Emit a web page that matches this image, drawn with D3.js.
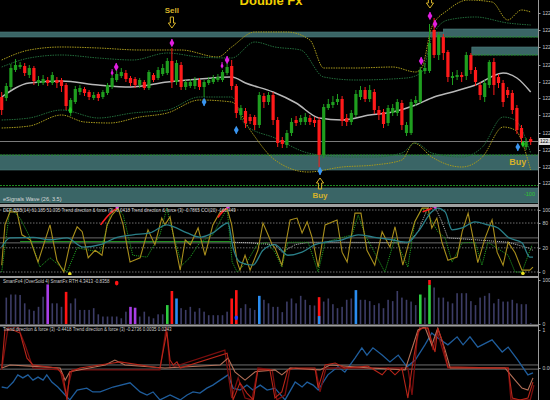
<!DOCTYPE html>
<html><head><meta charset="utf-8">
<script src="https://cdn.jsdelivr.net/npm/d3@7"></script>
<style>html,body{margin:0;padding:0;background:#000;overflow:hidden}svg{display:block}</style>
</head><body><svg id="c" width="550" height="400"></svg>
<script>
// ---------------- DATA ----------------
const candleOpen = [103,102,113,130,133,134,125,132,117,117, 120,117,120,120,115,87,98,108,111,108, 102,106,103,107,113,120,124,127,122,121, 115,118,112,125,122,126,127,139,118,135, 113,114,114,120,113,117,118,120,120,127, 134,114,85,89,83,83,75,104,98,105, 80,60,55,67,80,78,78,82,80,80, 45,92,95,98,101,82,78,85,103,110, 101,108,90,88,77,87,87,97,67,67, 97,98,129,129,170,145,163,148,122,123, 125,124,145,130,115,103,115,138,123,117, 110,107,92,72,53,61];
const candleClose = [90,114,132,135,135,127,132,119,120,121, 117,125,117,114,94,100,111,112,107,103, 105,102,108,115,122,126,128,121,117,115, 120,112,128,120,130,132,139,118,137,113, 118,118,120,113,118,120,122,123,128,133, 114,87,92,77,79,75,105,98,105,80, 57,56,67,78,77,82,83,78,77,45, 93,96,98,101,79,78,87,106,110,101, 110,90,85,76,92,92,98,75,75,98, 100,130,132,157,145,165,147,123,124,125, 123,145,130,118,105,117,138,115,117,98, 105,90,70,62,58,58];
const candleHigh = [108,117,136,141,138,137,135,134,124,125, 123,128,123,122,117,102,114,115,113,110, 108,108,110,117,125,130,132,130,124,123, 122,120,130,127,133,136,142,152,140,138, 120,121,123,122,120,123,125,126,130,137, 140,116,95,92,86,85,108,107,108,108, 83,63,70,82,84,85,87,85,83,83, 96,101,104,106,104,86,90,110,114,113, 115,111,94,91,95,96,101,100,78,101, 104,133,137,176,182,168,166,150,128,130, 128,148,147,133,118,120,140,142,126,120, 113,110,95,75,62,63];
const candleLow = [85,99,110,128,131,124,122,115,114,115, 114,115,112,108,90,84,96,105,104,100, 100,99,101,105,111,118,122,118,114,112, 112,110,110,118,120,124,125,112,115,110, 110,112,111,110,103,115,116,118,118,125, 110,82,80,72,76,70,72,92,95,75, 53,52,52,64,74,75,75,75,73,33, 42,90,92,95,74,74,75,83,100,98, 98,86,80,72,74,84,84,70,64,65, 94,96,126,127,142,140,140,118,115,120, 118,120,126,114,100,98,112,105,112,93, 102,86,66,56,50,55];

const maLine = [[0,103],[6,117],[13,119],[21,115],[28,113],[36,118],[43,121],[50,123],[53,117],[59,108],[64,97],[69,82],[74,80],[80,85],[85,88],[90,95],[94,103],[98,108],[103,115],[109,127],[112,122],[115,108]];
const bandOuterUp = [[0,140],[6,150],[13,153],[21,152],[30,150],[39,150],[47,143],[50,153],[55,168],[62,168],[67,160],[70,132],[77,132],[85,133],[90,128],[91.4,133],[93.5,173],[97,190],[101.4,200],[106.6,198],[110,180],[113,190],[115,188]];
const bandInnerUp = [[0,133],[6,142],[13,145],[21,142],[28.5,140],[36,147],[43,143],[50,142],[55,158],[59.4,153],[65,150],[70,123],[77,120],[88,122],[91.4,128],[93.5,163],[97,180],[103,183],[110,177],[115,175]];
const bandInnerLo = [[0,80],[6,82],[13,90],[21,82],[28.5,87],[36,90],[43,103],[50,103],[53,75],[59.4,62],[66.6,47],[74,43],[81,43],[87,47],[90,57],[93.5,47],[100,43],[104.5,53],[109,83],[111.6,80],[115,47]];
const bandOuterLo = [[0,72],[6,74],[13,85],[18,78],[23.5,77],[30,83],[36,87],[43,100],[50,98],[54,70],[59.4,40],[66.6,28],[74,33],[81,35],[87,40],[89.6,57],[93.5,43],[100,33],[104.5,43],[109,73],[111.6,70],[115,30]];

const zoneFrom = [-1, 96, 102.2, -1, -1];
const zoneTo   = [96, 118, 118, 118, 118];
const zoneHigh = [168, 171, 153, 45, 12];
const zoneLow  = [163, 163, 145, 30, -3];
const currentPrice = 58.5;
const supportLine = 14.5;

const priceTicks = [187,170,153,135,118,102,85,67,50,33,17];
const priceTickLabels = ["122.775","122.750","122.725","122.700","122.675","122.650","122.625","122.600","122.575","122.550","122.525"];

const magentaIdx = [37,24.9,24,49,47.9,93.1,94.2,91.2];
const magentaVal = [157,133,127,140,134,184,176,139];
const blueIdx = [44,51,69.2,112.2];
const blueVal = [98,70,29,53];
const greenDotIdx = [14.9,113.3];
const greenDotVal = [90,56];
const sellIdx = [37,93.1];
const sellTip = [172,192];
const sellTextIdx = [37];
const sellText = [187.5];
const buyIdx = [69.2];
const buyTip = [22];
const buyText = [2];
const buyLabel2 = [112.2,35];

// oscillator panel
const oscYellow = [[0,11],[0.7,76],[1.8,97],[3.3,97],[4.4,60],[6.2,52],[7.9,16],[10.5,76],[12,19],[13.5,0],[14.8,44],[16.4,73],[17.5,65],[18.8,23],[20.3,35],[21.8,27],[22.9,76],[24,92],[25.3,103],[26.4,76],[27.9,16],[30.1,23],[31.8,68],[33.3,44],[34.8,87],[35.5,76],[36.6,89],[37.7,44],[38.8,3],[39.9,52],[41,44],[42.7,71],[44.2,27],[45.9,76],[47.5,97],[49,103],[50,76],[51.2,16],[51.8,3],[52.9,27],[54,3],[55.7,35],[56.8,79],[57.9,60],[58.8,44],[59.4,39],[60.9,11],[62.7,84],[64.2,87],[65.3,63],[66.4,81],[67.5,55],[68.8,8],[70.3,76],[72.9,84],[74,32],[75.1,16],[76.8,95],[78.1,95],[79.4,35],[81.1,11],[82.7,65],[84.4,40],[85.5,73],[87.2,11],[88.8,55],[89.8,81],[91.4,103],[92.7,103],[93.5,71],[94.6,87],[95.7,48],[97,19],[99,24],[100.1,65],[101.4,95],[102.2,65],[103.5,15],[105.1,55],[106.6,84],[107.7,32],[109,11],[110.1,48],[111.6,31],[113.1,3],[114.8,3],[115.5,8]];
const oscTeal = [[0,40],[1.8,55],[6.8,56],[10.5,52],[14.2,55],[17.7,40],[21.4,44],[25.1,56],[28.5,60],[32.2,63],[35.9,76],[37.3,73],[40.3,63],[43.1,56],[45.9,63],[49.2,79],[50.3,39],[51.8,16],[54.6,11],[56.8,35],[59.4,44],[62.2,27],[65.3,32],[68.1,44],[70.3,48],[74,52],[77.5,60],[81.1,56],[84.8,52],[88.3,48],[90.5,65],[93.5,97],[94.8,103],[96.4,97],[97.9,68],[100.1,71],[102.9,81],[105.7,76],[107.9,71],[110.1,56],[113.1,47],[114.8,24],[115.5,24]];
const oscGreen = [[0,0],[1.8,103],[4,87],[6.2,55],[8.3,8],[10.5,23],[14.2,0],[16.4,39],[21.4,32],[23.6,92],[25.1,103],[26.4,92],[28.5,27],[31.6,24],[34.4,60],[35.9,103],[37.3,60],[39.2,11],[40.9,23],[43.1,48],[45.9,60],[49,103],[50.1,16],[51.2,0],[53.3,16],[55.5,44],[57.7,48],[59.4,32],[60.9,8],[62.2,48],[66.6,48],[68.8,0],[70.3,48],[76.2,60],[77.5,92],[79,60],[83.3,0],[85.5,55],[88.3,8],[89.8,81],[91.4,103],[92.7,92],[94.8,65],[96.4,55],[97.9,16],[100.1,47],[102.9,48],[104.4,11],[105.7,48],[110.1,27],[111.6,0],[113.1,0],[115.3,44]];
const oscGray = [[50.3,48],[54,47],[59.4,44],[60.9,32],[63.8,44],[66.6,48],[74,48],[88.3,47],[90.5,65],[92.7,105],[94.2,105],[95.7,81],[97,55],[102.9,52],[110.1,48],[114.4,39],[115.5,35]];
const oscFlat = [[4,49],[50,49]];
const oscRedArcs = [[[21.5,76],[23,90],[24.3,99],[25.1,103]],[[47,88],[48,97],[49,103]],[[91.5,97],[92.8,101],[93.6,103]]];
const oscPeakIdx = [25.1,49.2,94.2];
const oscPeakVal = [105,105,105];
const oscBottomIdx = [14.8,113.3];
const oscBottomVal = [-3,-2];
const oscDotted = [100,79,39,0];
const oscSolid = [55,47];
const oscTicks = [100,79,39,0];
const oscTickLabels = ["100","80","20","0"];

// histogram panel
const histVal = [0,60,67,67,66,47,33,30,39,62, 90,47,47,39,73,47,58,32,32,32, 36,22,17,17,17,17,13,28,39,37, 17,28,17,13,22,22,43,75,58,36, 32,39,28,36,28,20,20,20,20,28, 58,77,36,45,36,32,64,55,47,39, 39,27,51,58,47,64,55,43,42,61, 51,58,45,36,39,55,58,77,55,55, 52,43,47,36,55,52,75,60,55,51, 43,67,60,100,83,60,60,51,47,70, 70,70,52,43,60,64,70,47,57,51, 51,55,47,45,45,2];
const purpleBars = [10,28,29];
const redBars = [14,37,50,51,69];
const greenBars = [36,91,93];
const blueBars = [38,56,77];
const overlayIdx = [69,93];
const overlayFrom = [0,89];
const overlayTo = [18,100];
const overlayKind = ["blue","red"];
const histDotIdx = [25,51];
const histDotVal = [93,14];
const histDotKind = ["red","blue"];

// trend panel
const trendBlue = [[0,-0.5],[1.2,-0.53],[2.5,-0.37],[3.5,-0.18],[4.6,-0.26],[5.7,-0.18],[6.8,-0.32],[7.9,-0.24],[9,-0.32],[9.8,-0.18],[10.9,-0.37],[12.2,-0.5],[13.8,-0.71],[14.8,-0.84],[16.4,-0.58],[18.5,-0.53],[19.8,-0.63],[21.4,-0.63],[24.2,-0.5],[27.9,-0.39],[30.1,-0.63],[31.6,-0.71],[32.9,-0.63],[34.4,-0.84],[36.6,-0.71],[38.8,-0.84],[40.3,-0.71],[41.6,-0.63],[43.1,-0.66],[44.6,-0.53],[45.9,-0.45],[47.5,-0.32],[49.2,-0.18],[50.3,-0.53],[51.8,-0.58],[53.3,-0.45],[54.6,-0.58],[56.2,-0.45],[57.7,-0.58],[59.4,-0.53],[61.6,-0.84],[63.8,-0.37],[65.3,-0.5],[66.4,-0.37],[67.7,-0.45],[68.8,-0.58],[70.9,-0.18],[73.1,0.03],[74.6,-0.11],[76.8,0.26],[78.3,0.53],[79.4,0.34],[80.7,0.53],[82.7,0.34],[84.4,0.16],[86.2,0.34],[88.1,0.03],[89.9,0.21],[92,0.61],[93.5,0.92],[94.8,0.79],[97,0.61],[99,0.82],[100.3,0.61],[101.8,0.82],[103.5,0.55],[106.6,0.74],[108.8,0.42],[110.1,0.55],[112.2,0.21],[114.4,-0.18],[115.5,-0.13]];
const trendRed = [[0,0],[0.7,1.0],[2.5,1.0],[4,0.92],[5.5,0.26],[6.8,0.08],[12,0],[13.3,-0.18],[14.2,-0.84],[14.8,-0.11],[17,0],[24.2,0.13],[25.7,0.16],[34.4,0],[35.9,0.95],[36.6,0.21],[37.3,0.08],[38.1,0.16],[38.8,0],[49,0.39],[49.6,0],[50.3,-0.84],[51.8,-0.39],[53.3,-0.66],[54.7,-0.84],[55.7,-0.05],[58.3,-0.05],[59.4,-0.79],[60.9,-0.63],[62.2,-0.05],[63.8,0],[68.1,0],[68.8,-0.53],[70.3,0.08],[72.5,0.13],[74.6,0],[79.6,0.05],[82.7,-0.18],[84,0],[85.5,-0.18],[87,0],[88.3,-0.79],[89.2,0],[90.5,0.95],[91.4,1.05],[92.7,1.05],[93.5,0.68],[94.2,0.42],[94.8,1.05],[95.7,0.74],[97,0.03],[108.3,0],[110.1,0],[111,-0.79],[112.7,-0.84],[114.4,-0.79],[115.5,-0.37]];
const trendDark = [[0,-0.05],[1.4,1.08],[3.5,1.08],[5.1,0.6],[6.8,0],[12.7,-0.05],[14,-0.71],[15.3,-0.05],[34.4,-0.05],[35.8,1.08],[36.6,0],[48.5,0.47],[50,-0.79],[51.4,-0.26],[52.9,-0.79],[54.4,-0.84],[55.7,0],[58.8,-0.05],[59.8,-0.84],[61.6,-0.71],[62.7,0],[68.3,-0.05],[69.2,-0.63],[70.5,0],[88.3,0],[89.2,-0.71],[90.3,0.74],[90.9,1.08],[92.5,1.08],[93.8,0.47],[94.6,1.0],[96,0.42],[97,0],[110.1,0],[110.7,-0.84],[114.9,-0.84],[115.7,-0.45]];
const trendBrown = [[0,0],[1.8,0.08],[6.2,0.05],[12.7,0],[13.8,-0.32],[14.8,-0.1],[22.5,0.08],[24.6,0.21],[26.8,0.08],[35.5,0],[47.5,0.08],[49.2,0.26],[50.7,-0.1],[52.9,-0.32],[55.1,-0.1],[59.4,-0.05],[60.9,-0.18],[62.7,0],[69.2,-0.05],[71.4,0.08],[80,0],[87.7,-0.05],[90.5,1.0],[92,1.08],[93.5,0.6],[94.8,1.05],[96.4,0.47],[97.5,0],[109.4,0],[111.6,-0.32],[113.1,-0.53],[114.4,-0.58],[115.5,-0.26]];
const trendLevels = [0.08,-0.03];
const trendTicks = [1,0];
const trendTickLabels = ["1","0.00"];
const histTicks = [100,0];
const histTickLabels = ["100","0"];

const headerOsc = "eSignals Wave (26, 3.5)";
const headerOsc2 = "DEF BBB(14) 61.185 51.035  Trend direction & force (3) -0.0418  Trend direction & force (3) -0.7865  CCI(20) -166.449";
const headerHist = "SmartFx4 (OverSold 4)   SmartFx RTH  4.3413  -0.8358";
const headerTrend = "Trend direction & force (3) -0.4418  Trend direction & force (3) -0.2736  0.0035  0.0243";
const title = "Double Fx";

// ---------------- DRAW ----------------
const svg = d3.select('#c');
const PR = 538;
svg.append('rect').attr('width',550).attr('height',400).attr('fill','#000');
const x = d3.scaleLinear().domain([0,115]).range([1.7,530.7]);
const yMain = d3.scaleLinear().domain([0,200]).range([200,0]);
const yOsc = d3.scaleLinear().domain([0,100]).range([272,210]);
const yHist = d3.scaleLinear().domain([0,100]).range([324,280]);
const yTrend = d3.scaleLinear().domain([-1,1]).range([406,330]);
const font = "Liberation Sans, Arial, sans-serif";

const defs = svg.append('defs');
function clip(id,y0,y1){defs.append('clipPath').attr('id',id).append('rect').attr('x',0).attr('y',y0).attr('width',PR).attr('height',y1-y0);}
clip('cm',0,203.5); clip('co',207,275); clip('ch',278,324.5); clip('ct',327,400);

// main panel
const gm = svg.append('g').attr('clip-path','url(#cm)');
zoneFrom.forEach((f,i)=>{
  gm.append('rect').attr('x',x(f)).attr('width',x(zoneTo[i])-x(f))
    .attr('y',yMain(zoneHigh[i])).attr('height',yMain(zoneLow[i])-yMain(zoneHigh[i]))
    .attr('fill','#3a6566').attr('stroke','#4f7c7d').attr('stroke-width',0.6);
});
[[1,'low'],[2,'low'],[3,'high']].forEach(([i,e])=>{
  const v = e==='low'?zoneLow[i]:zoneHigh[i];
  gm.append('line').attr('x1',x(zoneFrom[i])).attr('x2',x(zoneTo[i])).attr('y1',yMain(v)).attr('y2',yMain(v))
    .attr('stroke','#1e8a1e').attr('stroke-width',1).attr('stroke-dasharray','2,1');
});
gm.append('line').attr('x1',0).attr('x2',PR).attr('y1',yMain(supportLine)).attr('y2',yMain(supportLine))
  .attr('stroke','#1e8a1e').attr('stroke-width',1.2).attr('stroke-dasharray','2,1');
gm.append('line').attr('x1',0).attr('x2',PR).attr('y1',yMain(currentPrice)).attr('y2',yMain(currentPrice))
  .attr('stroke','#7a7a7a').attr('stroke-width',1);

const lineM = d3.line().x(d=>x(d[0])).y(d=>yMain(d[1])).curve(d3.curveMonotoneX);
gm.append('path').attr('d',lineM(bandOuterUp)).attr('fill','none').attr('stroke','#a89a1c').attr('stroke-width',1).attr('stroke-dasharray','1.5,1');
gm.append('path').attr('d',lineM(bandOuterLo)).attr('fill','none').attr('stroke','#a89a1c').attr('stroke-width',1).attr('stroke-dasharray','1.5,1');
gm.append('path').attr('d',lineM(bandInnerUp)).attr('fill','none').attr('stroke','#226b3a').attr('stroke-width',1).attr('stroke-dasharray','1.5,1');
gm.append('path').attr('d',lineM(bandInnerLo)).attr('fill','none').attr('stroke','#226b3a').attr('stroke-width',1).attr('stroke-dasharray','1.5,1');
gm.append('path').attr('d',lineM(maLine)).attr('fill','none').attr('stroke','#b8b8b8').attr('stroke-width',1.5);

const cw = 3.2;
candleOpen.forEach((o,i)=>{
  const c = candleClose[i];
  const col = c>=o ? '#1f9e1f' : '#ff1a1a';
  gm.append('line').attr('x1',x(i)).attr('x2',x(i)).attr('y1',yMain(candleHigh[i])).attr('y2',yMain(candleLow[i]))
    .attr('stroke',col).attr('stroke-width',1);
  const top = yMain(Math.max(o,c)), bot = yMain(Math.min(o,c));
  gm.append('rect').attr('x',x(i)-cw/2).attr('width',cw).attr('y',top).attr('height',Math.max(1,bot-top)).attr('fill',col);
});

magentaIdx.forEach((m,i)=>{
  gm.append('path').attr('transform',`translate(${x(m)},${yMain(magentaVal[i])})`)
    .attr('d',d3.symbol(d3.symbolDiamond, i===2||i===4?8:20)()).attr('fill','#e01ee0');
  gm.append('line').attr('x1',x(m)).attr('x2',x(m)).attr('y1',yMain(magentaVal[i])-4).attr('y2',yMain(magentaVal[i])-1).attr('stroke','#e01ee0').attr('stroke-width',1);
});
blueIdx.forEach((b,i)=>{
  gm.append('path').attr('transform',`translate(${x(b)},${yMain(blueVal[i])})`)
    .attr('d',d3.symbol(d3.symbolDiamond,20)()).attr('fill','#3a95f0');
  gm.append('line').attr('x1',x(b)).attr('x2',x(b)).attr('y1',yMain(blueVal[i])+1).attr('y2',yMain(blueVal[i])+4).attr('stroke','#3a95f0').attr('stroke-width',1);
});
greenDotIdx.forEach((g,i)=>{
  gm.append('path').attr('transform',`translate(${x(g)},${yMain(greenDotVal[i])})`)
    .attr('d',d3.symbol(d3.symbolDiamond,14)()).attr('fill','#22cc22');
});
function downArrow(cx,tip){return `M${cx-1.6},${tip-11}L${cx+1.6},${tip-11}L${cx+1.6},${tip-5}L${cx+3.6},${tip-5}L${cx},${tip}L${cx-3.6},${tip-5}L${cx-1.6},${tip-5}Z`;}
function upArrow(cx,tip){return `M${cx-1.6},${tip+11}L${cx+1.6},${tip+11}L${cx+1.6},${tip+5}L${cx+3.6},${tip+5}L${cx},${tip}L${cx-3.6},${tip+5}L${cx-1.6},${tip+5}Z`;}
sellIdx.forEach((s,i)=>{
  gm.append('path').attr('d',downArrow(x(s),yMain(sellTip[i]))).attr('fill','none').attr('stroke','#d6b22a').attr('stroke-width',1);
});
sellTextIdx.forEach((s,i)=>{
  gm.append('text').attr('x',x(s)).attr('y',yMain(sellText[i])).attr('text-anchor','middle').attr('font-family',font)
    .attr('font-weight','bold').attr('font-size',8).attr('fill','#d6b22a').text('Sell');
});
buyIdx.forEach((b,i)=>{
  gm.append('path').attr('d',upArrow(x(b),yMain(buyTip[i]))).attr('fill','none').attr('stroke','#d6b22a').attr('stroke-width',1);
  gm.append('text').attr('x',x(b)).attr('y',yMain(buyText[i])).attr('text-anchor','middle').attr('font-family',font)
    .attr('font-weight','bold').attr('font-size',8).attr('fill','#d6b22a').text('Buy');
});
gm.append('text').attr('x',x(buyLabel2[0])).attr('y',yMain(buyLabel2[1])).attr('text-anchor','middle').attr('font-family',font)
  .attr('font-weight','bold').attr('font-size',9).attr('fill','#d6b22a').text('Buy');
gm.append('text').attr('x',535).attr('y',yMain(zoneLow[4])-7).attr('text-anchor','end').attr('font-family',font)
  .attr('font-size',5.5).attr('fill','#2ec82e').text('-100');
gm.append('text').attr('x',3).attr('y',201).attr('font-family',font).attr('font-size',5.5).attr('fill','#d8d8d8').text(headerOsc);
svg.append('text').attr('x',271).attr('y',5).attr('text-anchor','middle').attr('font-family',font)
  .attr('font-weight','bold').attr('font-size',13).attr('fill','#f0d000').text(title);

// separators
[[205.5,3],[277,2],[325.5,2]].forEach(([y,w])=>{
  svg.append('line').attr('x1',0).attr('x2',PR).attr('y1',y).attr('y2',y).attr('stroke','#a0a0a0').attr('stroke-width',w);
});

// oscillator panel
const go = svg.append('g').attr('clip-path','url(#co)');
oscDotted.forEach(v=>go.append('line').attr('x1',0).attr('x2',PR).attr('y1',yOsc(v)).attr('y2',yOsc(v)).attr('stroke','#8a8a8a').attr('stroke-width',0.8).attr('stroke-dasharray','1.5,1.5'));
oscSolid.forEach(v=>go.append('line').attr('x1',0).attr('x2',PR).attr('y1',yOsc(v)).attr('y2',yOsc(v)).attr('stroke','#6a6a6a').attr('stroke-width',1));
const lineO = d3.line().x(d=>x(d[0])).y(d=>yOsc(d[1]));
go.append('path').attr('d',lineO(oscFlat)).attr('fill','none').attr('stroke','#25a025').attr('stroke-width',1);
go.append('path').attr('d',lineO(oscGray)).attr('fill','none').attr('stroke','#bdbdbd').attr('stroke-width',1).attr('stroke-dasharray','1,1');
go.append('path').attr('d',lineO(oscGreen)).attr('fill','none').attr('stroke','#1f9a1f').attr('stroke-width',1).attr('stroke-dasharray','1.2,1');
go.append('path').attr('d',lineO(oscYellow)).attr('fill','none').attr('stroke','#a88e1c').attr('stroke-width',1.1);
go.append('path').attr('d',d3.line().x(d=>x(d[0])).y(d=>yOsc(d[1])).curve(d3.curveMonotoneX)(oscTeal)).attr('fill','none').attr('stroke','#2a7f88').attr('stroke-width',1.3);
oscRedArcs.forEach(a=>go.append('path').attr('d',d3.line().x(d=>x(d[0])).y(d=>yOsc(d[1])).curve(d3.curveMonotoneX)(a)).attr('fill','none').attr('stroke','#ff2020').attr('stroke-width',1.6));
oscPeakIdx.forEach((p,i)=>go.append('circle').attr('cx',x(p)).attr('cy',yOsc(oscPeakVal[i])).attr('r',1.8).attr('fill','#e040e0'));
oscBottomIdx.forEach((p,i)=>go.append('circle').attr('cx',x(p)).attr('cy',yOsc(oscBottomVal[i])).attr('r',1.8).attr('fill','#e8e020'));
svg.append('text').attr('x',3).attr('y',212).attr('font-family',font).attr('font-size',4.5).attr('fill','#cfcfcf').text(headerOsc2);

// histogram panel
const gh = svg.append('g').attr('clip-path','url(#ch)');
const kindColor = {normal:'#3c3c66', purple:'#a83ee6', red:'#ff1414', green:'#2ecc40', blue:'#2a8cf0'};
function histKind(i){
  if (purpleBars.includes(i)) return 'purple';
  if (redBars.includes(i)) return 'red';
  if (greenBars.includes(i)) return 'green';
  if (blueBars.includes(i)) return 'blue';
  return 'normal';
}
histVal.forEach((v,i)=>{
  const k = histKind(i);
  const w = k==='normal'?1.6:2.6;
  const topV = (i===93)?overlayFrom[1]:v;
  gh.append('rect').attr('x',x(i)-w/2).attr('width',w).attr('y',yHist(topV)).attr('height',yHist(0)-yHist(topV)).attr('fill',kindColor[k]);
});
overlayIdx.forEach((o,i)=>{
  gh.append('rect').attr('x',x(o)-1.3).attr('width',2.6).attr('y',yHist(overlayTo[i])).attr('height',yHist(overlayFrom[i])-yHist(overlayTo[i])).attr('fill',kindColor[overlayKind[i]]);
});
histDotIdx.forEach((d,i)=>gh.append('ellipse').attr('cx',x(d)).attr('cy',yHist(histDotVal[i])).attr('rx',1.8).attr('ry',2.4).attr('fill',histDotKind[i]==='red'?'#ff1414':'#2040ff'));
svg.append('text').attr('x',3).attr('y',283).attr('font-family',font).attr('font-size',4.5).attr('fill','#cfcfcf').text(headerHist);

// trend panel
const gt = svg.append('g').attr('clip-path','url(#ct)');
trendLevels.forEach(v=>gt.append('line').attr('x1',0).attr('x2',PR).attr('y1',yTrend(v)).attr('y2',yTrend(v)).attr('stroke','#6e6e6e').attr('stroke-width',1));
const lineT = d3.line().x(d=>x(d[0])).y(d=>yTrend(d[1]));
gt.append('path').attr('d',lineT(trendBlue)).attr('fill','none').attr('stroke','#1f5d9c').attr('stroke-width',1.3);
gt.append('path').attr('d',lineT(trendDark)).attr('fill','none').attr('stroke','#7a0e0e').attr('stroke-width',1.3);
gt.append('path').attr('d',lineT(trendBrown)).attr('fill','none').attr('stroke','#b47058').attr('stroke-width',1.1);
gt.append('path').attr('d',lineT(trendRed)).attr('fill','none').attr('stroke','#b8261a').attr('stroke-width',1.1);
svg.append('text').attr('x',3).attr('y',331).attr('font-family',font).attr('font-size',4.5).attr('fill','#cfcfcf').text(headerTrend);

// right axis
svg.append('line').attr('x1',PR+0.5).attr('x2',PR+0.5).attr('y1',0).attr('y2',400).attr('stroke','#9a9a9a').attr('stroke-width',1);
function rightAxis(scale, vals, labels){
  const ax = d3.axisRight(scale).tickValues(vals).tickFormat((d,i)=>labels[i]).tickSize(2).tickPadding(2);
  const g = svg.append('g').attr('transform',`translate(${PR+0.5},0)`).call(ax);
  g.select('.domain').remove();
  g.selectAll('line').attr('stroke','#9a9a9a');
  g.selectAll('text').attr('font-family',font).attr('font-size',5).attr('fill','#c8c8c8');
}
rightAxis(yMain, priceTicks, priceTickLabels);
rightAxis(yOsc, oscTicks, oscTickLabels);
rightAxis(yHist, histTicks, histTickLabels);
rightAxis(yTrend, trendTicks, trendTickLabels);
svg.append('rect').attr('x',PR+1).attr('y',yMain(currentPrice)-3.5).attr('width',12).attr('height',7).attr('fill','#dcdcdc');
svg.append('text').attr('x',PR+2).attr('y',yMain(currentPrice)+1.8).attr('font-family',font).attr('font-size',5).attr('fill','#000').text('122.589');
</script>
</body></html>
